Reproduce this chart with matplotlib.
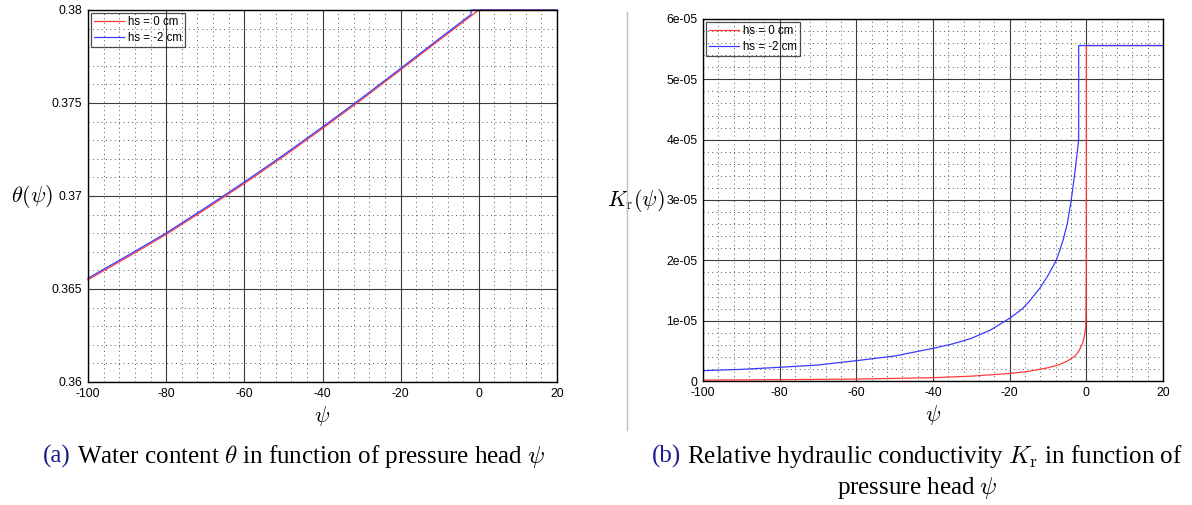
import numpy as np
import matplotlib.pyplot as plt
from matplotlib.ticker import MultipleLocator, FuncFormatter
from matplotlib.lines import Line2D

plt.rcParams['mathtext.fontset'] = 'cm'

# (a) water content theta(psi)
psi_theta_0 = [-100, -90, -80, -70, -60, -50, -40, -30, -20, -10, -5, 0, 20]
theta_0 = [0.36550, 0.36670, 0.36793, 0.36928, 0.37067, 0.37212, 0.37363, 0.37518, 0.37678, 0.37840, 0.37920, 0.38000, 0.38000]
psi_theta_2 = [-100, -90, -80, -70, -60, -50, -40, -30, -20, -10, -5, -2, -2, 20]
theta_2 = [0.36558, 0.36678, 0.36801, 0.36936, 0.37075, 0.37220, 0.37371, 0.37526, 0.37686, 0.37848, 0.37928, 0.37976, 0.38000, 0.38000]

# (b) relative hydraulic conductivity Kr(psi)
psi_k_0 = [-100, -80, -60, -40, -30, -20, -15, -10, -7, -5, -3, -2, -1, -0.5, -0.2, -0.1, -0.02, 0, 20]
k_0 = [0.015e-5, 0.022e-5, 0.032e-5, 0.055e-5, 0.08e-5, 0.125e-5, 0.16e-5, 0.22e-5, 0.27e-5, 0.33e-5,
       0.41e-5, 0.49e-5, 0.62e-5, 0.75e-5, 0.88e-5, 1.07e-5, 2.0e-5, 5.56e-5, 5.56e-5]
psi_k_2 = [-100, -90, -80, -70, -60, -50, -40, -35, -30, -25, -20, -17, -15, -12, -10, -8, -7, -6, -5, -4, -3, -2.5, -2, -2, 20]
k_2 = [0.171e-5, 0.193e-5, 0.227e-5, 0.265e-5, 0.337e-5, 0.414e-5, 0.541e-5, 0.613e-5, 0.707e-5, 0.845e-5,
       1.04e-5, 1.18e-5, 1.31e-5, 1.55e-5, 1.75e-5, 1.98e-5, 2.15e-5, 2.35e-5, 2.6e-5, 2.97e-5, 3.45e-5,
       3.72e-5, 4.0e-5, 5.56e-5, 5.56e-5]

labels = ['hs = 0 cm', 'hs = -2 cm']
red = '#ff3a3a'
blue = '#3a3aff'
navy = '#1c1c8c'

W, H = 1192, 505
fig = plt.figure(figsize=(W / 100, H / 100), dpi=100)


def setup(ax, ymin, ymax, ymaj):
    ax.set_xlim(-100, 20)
    ax.set_ylim(ymin, ymax)
    ax.xaxis.set_major_locator(MultipleLocator(20))
    ax.xaxis.set_minor_locator(MultipleLocator(4))
    ax.yaxis.set_major_locator(MultipleLocator(ymaj))
    ax.yaxis.set_minor_locator(MultipleLocator(ymaj / 5))
    ax.grid(which='major', color='#3a3a3a', lw=0.8, ls='-')
    ax.grid(which='minor', color='#555555', lw=0.7, ls=(0, (1, 3.5)))
    ax.set_axisbelow(True)
    ax.tick_params(which='both', length=0, labelsize=8.8, pad=4)
    ax.xaxis.set_major_formatter(FuncFormatter(lambda v, p: '%g' % v))
    ax.yaxis.set_major_formatter(FuncFormatter(lambda v, p: '%g' % v))
    for lab in ax.get_xticklabels() + ax.get_yticklabels():
        lab.set_family('Liberation Sans')
    for s in ax.spines.values():
        s.set_color('black')
        s.set_linewidth(1.0)
    ax.set_xlabel(r'$\psi$', fontsize=16, labelpad=3)


# left panel
ax1 = fig.add_axes([88 / W, 1 - 382 / H, (557 - 88) / W, (382 - 10) / H])
setup(ax1, 0.36, 0.38, 0.005)
ax1.plot(psi_theta_0, theta_0, color=red, lw=0.9, label=labels[0], clip_on=False)
ax1.plot(psi_theta_2, theta_2, color=blue, lw=0.9, label=labels[1], clip_on=False)
ax1.set_ylabel(r'$\theta(\psi)$', fontsize=16, rotation=0, labelpad=14, va='center')

# right panel
ax2 = fig.add_axes([703 / W, 1 - 381 / H, (1163 - 703) / W, (381 - 19) / H])
setup(ax2, 0, 6e-5, 1e-5)
ax2.plot(psi_k_0, k_0, color=red, lw=0.9, label=labels[0])
ax2.plot(psi_k_2, k_2, color=blue, lw=0.9, label=labels[1])
ax2.set_ylabel(r'$K_\mathrm{r}(\psi)$', fontsize=16, rotation=0, labelpad=22, va='center')

for ax in (ax1, ax2):
    leg = ax.legend(loc='upper left', prop={'family': 'Liberation Sans', 'size': 8.3},
                    frameon=True, fancybox=False,
                    borderaxespad=0.25, handlelength=2.6, handletextpad=0.3,
                    borderpad=0.3, labelspacing=0.3)
    leg.get_frame().set_facecolor('none')
    leg.get_frame().set_edgecolor('#222222')
    leg.get_frame().set_linewidth(0.9)

# separator between subfigures
fig.add_artist(Line2D([627 / W, 627 / W], [1 - 12 / H, 1 - 430 / H], color='#c0c0c0', lw=1,
                      transform=fig.transFigure))

# captions
renderer = fig.canvas.get_renderer()
cap_kw = dict(fontsize=18, family='Liberation Serif', va='center')


def caption(xc, y, tag, rest):
    t1 = fig.text(0, 1 - y / H, tag, color=navy, **cap_kw)
    t2 = fig.text(0, 1 - y / H, ' ' + rest, color='black', **cap_kw)
    w1 = t1.get_window_extent(renderer).width
    w2 = t2.get_window_extent(renderer).width
    x0 = xc - (w1 + w2) / 2
    t1.set_x(x0 / W)
    t2.set_x((x0 + w1) / W)


caption(294, 456, '(a)', r'Water content $\theta$ in function of pressure head $\psi$')
caption(917, 456, '(b)', r'Relative hydraulic conductivity $K_\mathrm{r}$ in function of')
fig.text(917 / W, 1 - 488 / H, r'pressure head $\psi$', ha='center', color='black', **cap_kw)

fig.savefig('out.png', dpi=100)
